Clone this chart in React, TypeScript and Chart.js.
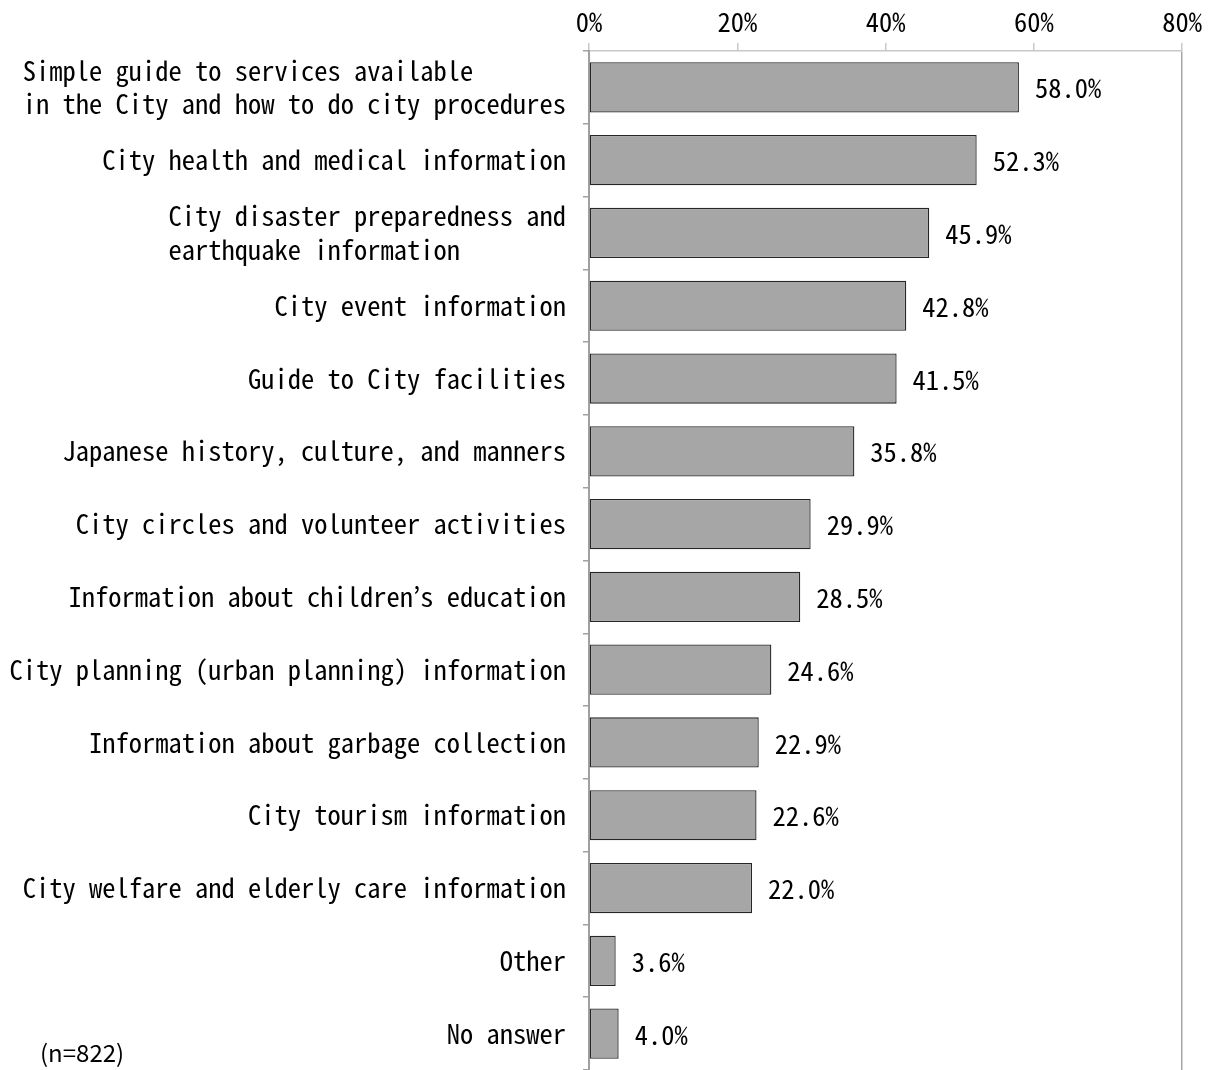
import React, { useEffect, useRef } from "react";
import { Chart, registerables } from "chart.js";

Chart.register(...registerables);

const categories: (string | string[])[] = [
  ["Simple guide to services available", "in the City and how to do city procedures"],
  "City health and medical information",
  ["City disaster preparedness and", "earthquake information"],
  "City event information",
  "Guide to City facilities",
  "Japanese history, culture, and manners",
  "City circles and volunteer activities",
  "Information about children\u2019s education",
  "City planning (urban planning) information",
  "Information about garbage collection",
  "City tourism information",
  "City welfare and elderly care information",
  "Other",
  "No answer",
];

const values = [58.0, 52.3, 45.9, 42.8, 41.5, 35.8, 29.9, 28.5, 24.6, 22.9, 22.6, 22.0, 3.6, 4.0];

const axisMin = 0;
const axisMax = 80;
const axisStep = 20;
const sampleNote = "(n=822)";

const FONT = "'Noto Sans Mono CJK JP', 'DejaVu Sans Mono', monospace";
const FSIZE = 26.5;

// left-align lines within a multi-line label (monospace font): pad to equal length
const displayLabels = categories.map((c) => {
  if (Array.isArray(c)) {
    const n = Math.max(...c.map((s) => s.length));
    return c.map((s) => s.padEnd(n, " "));
  }
  return c;
});

const valueLabelPlugin = {
  id: "valueLabels",
  afterDatasetsDraw(chart: any) {
    const ctx = chart.ctx;
    const meta = chart.getDatasetMeta(0);
    ctx.save();
    ctx.font = `${FSIZE}px ${FONT}`;
    ctx.fillStyle = "#000";
    ctx.textAlign = "left";
    ctx.textBaseline = "middle";
    meta.data.forEach((bar: any, i: number) => {
      ctx.fillText(values[i].toFixed(1) + "%", bar.x + 16, bar.y + 1);
    });
    ctx.restore();
  },
};

const notePlugin = {
  id: "sampleNote",
  afterDraw(chart: any) {
    const ctx = chart.ctx;
    ctx.save();
    ctx.font = `24px 'Noto Sans CJK JP', sans-serif`;
    ctx.fillStyle = "#000";
    ctx.textAlign = "left";
    ctx.textBaseline = "middle";
    ctx.fillText(sampleNote, 40, chart.chartArea.bottom - 17);
    ctx.restore();
  },
};

export default function App() {
  const ref = useRef<HTMLCanvasElement>(null);
  useEffect(() => {
    document.body.style.margin = "0";
    Chart.defaults.color = "#000";
    const chart = new Chart(ref.current!, {
      type: "bar",
      data: {
        labels: displayLabels,
        datasets: [
          {
            data: values,
            backgroundColor: "#a6a6a6",
            borderColor: "#262626",
            borderWidth: 1.3,
            borderSkipped: false,
            barPercentage: 0.69,
            categoryPercentage: 1,
          },
        ],
      },
      options: {
        indexAxis: "y",
        animation: false,
        responsive: false,
        layout: { padding: { left: 10, right: 31, top: 0, bottom: 0 } },
        plugins: { legend: { display: false }, tooltip: { enabled: false } },
        scales: {
          x: {
            position: "top",
            min: axisMin,
            max: axisMax,
            afterFit: (s: any) => {
              s.height = 51;
            },
            ticks: {
              stepSize: axisStep,
              padding: 5,
              font: { family: FONT, size: FSIZE },
              callback: (v: any) => v + "%",
            },
            grid: {
              color: (c: any) => (c.tick && c.tick.value === axisMax ? "#a6a6a6" : "rgba(0,0,0,0)"),
              tickColor: "#c8c8c8",
              tickLength: 8,
              lineWidth: 1.5,
            },
            border: { color: "#c8c8c8", width: 1.5 },
          },
          y: {
            afterFit: (s: any) => {
              s.width = 579;
              s.paddingTop = 0;
              s.paddingBottom = 0;
            },
            ticks: {
              autoSkip: false,
              padding: 17,
              font: { family: FONT, size: FSIZE, lineHeight: 1.27 },
            },
            grid: {
              drawOnChartArea: false,
              tickLength: 6,
              color: "#a0a0a0",
              lineWidth: 1.5,
            },
            border: { color: "#a0a0a0", width: 2 },
          },
        },
      },
      plugins: [valueLabelPlugin, notePlugin],
    });
    return () => chart.destroy();
  }, []);
  return (
    <div style={{ width: 1213, height: 1070 }}>
      <canvas ref={ref} width={1213} height={1070} />
    </div>
  );
}
